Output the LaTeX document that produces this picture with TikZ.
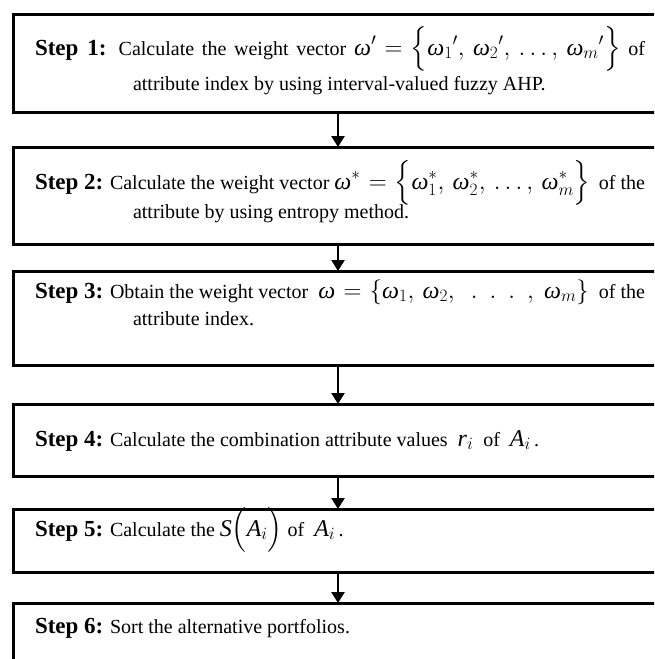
\documentclass[tikz,border=0pt]{standalone}
\usepackage{amsmath}
\usepackage{fontspec}
\setmainfont{Liberation Serif}
\usetikzlibrary{arrows.meta}
\newcommand\om{\text{\itshape ω}}
\newcommand\mi[1]{\text{\itshape #1}}
\newcommand\stp[1]{{\fontsize{23}{26}\selectfont\bfseries Step #1:}}
\newcommand\fm[1]{{\fontsize{24}{28}\selectfont\thickmuskip=6mu\medmuskip=4mu$#1$}}
\begin{document}
\begin{tikzpicture}[x=1pt,y=-1pt,
  box/.style={draw, rectangle, line width=3pt, minimum width=650pt, inner sep=0pt, outer sep=0pt, anchor=north west},
  txt/.style={inner sep=0pt, outer sep=0pt, anchor=base west, font=\fontsize{20}{24}\selectfont},
  arr/.style={line width=2.5pt, -{Triangle[length=11pt,width=13pt]}}]
\useasboundingbox (0,0) rectangle (654,659);
\clip (0,0) rectangle (654,659);
% boxes
\node[box, minimum height=98pt] (b1) at (13,14) {};
\node[box, minimum height=97pt] (b2) at (13,147) {};
\node[box, minimum height=94pt] (b3) at (13,271) {};
\node[box, minimum height=72pt] (b4) at (13,404) {};
\node[box, minimum height=63pt] (b5) at (13,509) {};
\node[box, minimum height=120pt] (b6) at (13,603) {};
% arrows
\draw[arr] (b1.south) -- (b2.north);
\draw[arr] (b2.south) -- (b3.north);
\draw[arr] (b3.south) -- (b4.north);
\draw[arr] (b4.south) -- (b5.north);
\draw[arr] (b5.south) -- (b6.north);
% texts
\node[txt] (t1a) at (35,55) {\hbox to 610pt{\stp{1} Calculate the weight vector \fm{\om' = \Bigl\{\om_1{}',\, \om_2{}',\, \ldots,\, \om_m{}'\Bigr\}} of}};
\node[txt] (t1b) at (133,90) {attribute index by using interval-valued fuzzy AHP.};
\node[txt] (t2a) at (35,189) {\hbox to 610pt{\stp{2} Calculate the weight vector \fm{\om^{*} = \Bigl\{\om^{*}_1 ,\, \om^{*}_2 ,\, \ldots,\, \om^{*}_m\Bigr\}}\hfil\ of the}};
\node[txt] (t2b) at (133,218) {attribute by using entropy method.};
\node[txt] (t3a) at (35,298) {\hbox to 610pt{\stp{3} Obtain the weight vector\ \ \fm{\om = \{\om_1,\, \om_2,\ \ .\ \ .\ \ .\ \ ,\ \om_m\}}\hfil\ of the}};
\node[txt] (t3b) at (133,325) {attribute index.};
\node[txt] (t4) at (35,446) {\stp{4} Calculate the combination attribute values \ \fm{\mi{r}_i} \ of \ \fm{\mi{A}_i}\,.};
\node[txt] (t5) at (35,536) {\stp{5} Calculate the \fm{\mi{S}\Bigl(\mi{A}_i\Bigr)} of \ \fm{\mi{A}_i}\,.};
\node[txt] (t6) at (35,633) {\stp{6} Sort the alternative portfolios.};
\end{tikzpicture}
\end{document}
